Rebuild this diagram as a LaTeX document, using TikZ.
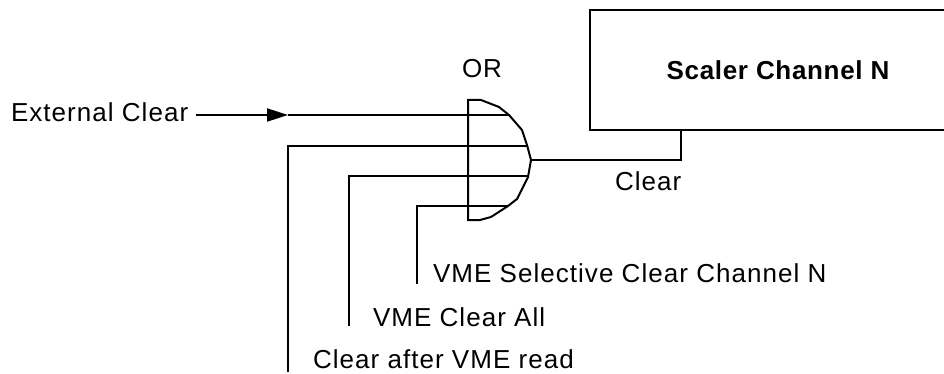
\documentclass[tikz,border=0pt]{standalone}
\usepackage{fontspec}
\setmainfont{Liberation Sans}[LetterSpace=4]
\newfontfamily\boxfont{Liberation Sans}[LetterSpace=2.6]
\usetikzlibrary{arrows.meta, positioning}

\begin{document}
\begin{tikzpicture}[x=1pt, y=-1pt, line width=2pt,
    label/.style={font=\fontsize{26}{30}\selectfont, inner sep=0pt, anchor=base west}]
  \clip (0,0) rectangle (944,374);

  % box runs off the right edge
  \node[draw, minimum width=376pt, minimum height=120pt, inner sep=0pt, font=\boxfont\fontsize{26}{30}\selectfont\bfseries] (scaler) at (778,70) {Scaler Channel N};

  % OR gate outline
  \draw (468,100) -- (481,100) -- (499,107) -- (509,115) -- (522,130) -- (527,145) -- (531,160) -- (528,177) -- (517,199) -- (508,206) -- (491,217) -- (480,220) -- (468,220) -- cycle;
  \coordinate (orout) at (531,160);
  \coordinate (in1) at (509,115);
  \coordinate (in2) at (527,146);
  \coordinate (in3) at (528,176);
  \coordinate (in4) at (508,206);
  \coordinate (in1mid) at (288,115);
  \coordinate (in1start) at (196,115);
  \coordinate (clrout) at (681,130);

  \node[label] (orlabel) at (461,78) {OR};
  \node[label] (extclear) at (10,122) {External Clear};
  \node[label] (clear) at (614,190) {Clear};
  \node[label] (selclear) at (432,282) {VME Selective Clear Channel N};
  \node[label] (allclear) at (372,326) {VME Clear All};
  \node[label] (readclear) at (312,368) {Clear after VME read};

  \coordinate (sel) at (417,284);
  \coordinate (all) at (349,326);
  \coordinate (read) at (288,372);

  \draw[-{Triangle[length=21pt, width=13pt]}] (in1start) -- (in1mid);
  \draw (in1mid) -- (in1);
  \draw (read) |- (in2);
  \draw (all) |- (in3);
  \draw (sel) |- (in4);
  \draw (orout) -| (clrout);
\end{tikzpicture}
\end{document}
